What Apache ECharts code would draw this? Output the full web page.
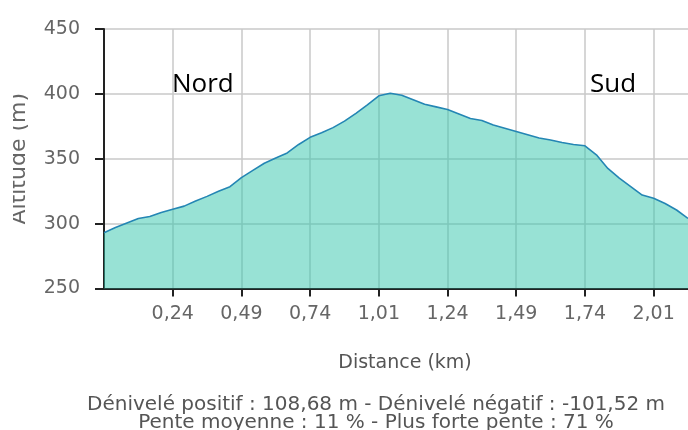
<!DOCTYPE html>
<html>
<head>
<meta charset="utf-8">
<script src="https://cdn.jsdelivr.net/npm/echarts@6/dist/echarts.min.js"></script>
<style>
  html, body { margin: 0; padding: 0; background: #fff; }
  #profil { width: 688px; height: 430px; }
</style>
</head>
<body>
<div id="profil"></div>
<script>
// distance (km) of each sample along the track
const distances = [
  0.00, 0.04, 0.08, 0.12, 0.16, 0.20, 0.24, 0.28, 0.32, 0.36, 0.41, 0.45, 0.49,
  0.53, 0.57, 0.62, 0.66, 0.70, 0.74, 0.79, 0.83, 0.88, 0.92, 0.97, 1.01,
  1.05, 1.09, 1.12, 1.16, 1.20, 1.24, 1.28, 1.32, 1.37, 1.41, 1.45, 1.49,
  1.53, 1.57, 1.62, 1.66, 1.70, 1.74, 1.79, 1.83, 1.88, 1.92, 1.97, 2.01,
  2.05, 2.09, 2.13
]
// altitude (m)
const altitudes = [
  293, 297, 300.5, 304, 305.5, 308.5, 311, 313.5, 317.5, 321, 325, 328.5, 335.5,
  341, 346.5, 350.5, 354.5, 361, 366.5, 370, 374, 379, 385, 391.5, 398.5,
  400.5, 399, 395.5, 392, 390, 388, 384.5, 381, 379.5, 376, 373.5, 371,
  368.5, 366, 364.5, 362.5, 361, 360, 353, 342.5, 335, 328.5, 322, 319.5,
  315.5, 310.5, 304
]
const tickEvery = 6
const footer = [
  'Dénivelé positif : 108,68 m - Dénivelé négatif : -101,52 m',
  'Pente moyenne : 11 % - Plus forte pente : 71 %'
]

const chart = echarts.init(document.getElementById('profil'))
const gris = '#666'
const onTick = idx => idx > 0 && idx % tickEvery === 0

const option = {
  animation: false,
  grid: { left: 101, right: 0, top: 29, bottom: 141.5 },
  xAxis: {
    type: 'category',
    boundaryGap: false,
    data: distances.map(d => d.toFixed(2).replace('.', ',')),
    name: 'Distance (km)',
    nameLocation: 'middle',
    nameGap: 65,
    nameTextStyle: { color: '#555', fontSize: 19, fontFamily: 'DejaVu Sans', padding: [0, 0, 0, 18] },
    axisLine: { lineStyle: { color: '#222', width: 2 } },
    axisTick: { interval: onTick, length: 8, lineStyle: { color: '#222', width: 2 } },
    axisLabel: { interval: onTick, color: gris, fontSize: 19, fontFamily: 'DejaVu Sans', margin: 16 },
    splitLine: { show: true, interval: onTick, lineStyle: { color: '#c8c8c8', width: 1.5 } }
  },
  yAxis: {
    type: 'value',
    min: 250,
    max: 450,
    interval: 50,
    name: 'Altitude (m)',
    nameLocation: 'middle',
    nameRotate: 90,
    nameGap: 74,
    nameTextStyle: { color: '#666', fontSize: 22, fontFamily: 'DejaVu Sans' },
    axisLine: { show: true, lineStyle: { color: '#222', width: 2 } },
    axisTick: { show: true, length: 9, lineStyle: { color: '#222', width: 2 } },
    axisLabel: { color: gris, fontSize: 19, fontFamily: 'DejaVu Sans', margin: 24 },
    splitLine: { show: true, lineStyle: { color: '#c8c8c8', width: 1.5 } }
  },
  series: [{
    type: 'line',
    data: altitudes,
    showSymbol: false,
    lineStyle: { color: '#2486b4', width: 1.6 },
    areaStyle: { color: 'rgba(49, 197, 171, 0.5)', opacity: 1 }
  }],
  graphic: [
    // the y title is clipped on its left side in the original
    { type: 'rect', left: 0, top: 80, shape: { width: 13, height: 160 }, style: { fill: '#fff' }, z: 100 },
    { type: 'text', x: 172, y: 85, style: { text: 'Nord', font: '26px "Open Sans"', fill: '#000', textVerticalAlign: 'middle' }, z: 100 },
    { type: 'text', x: 590, y: 85, style: { text: 'Sud', font: '26px "Open Sans"', fill: '#000', textVerticalAlign: 'middle' }, z: 100 },
    { type: 'text', x: 376, y: 405, style: { text: footer[0], font: '20px "DejaVu Sans"', fill: '#555', textAlign: 'center', textVerticalAlign: 'middle' }, z: 100 },
    { type: 'text', x: 376, y: 423, style: { text: footer[1], font: '20px "DejaVu Sans"', fill: '#555', textAlign: 'center', textVerticalAlign: 'middle' }, z: 100 }
  ]
}

chart.setOption(option)
</script>
</body>
</html>
